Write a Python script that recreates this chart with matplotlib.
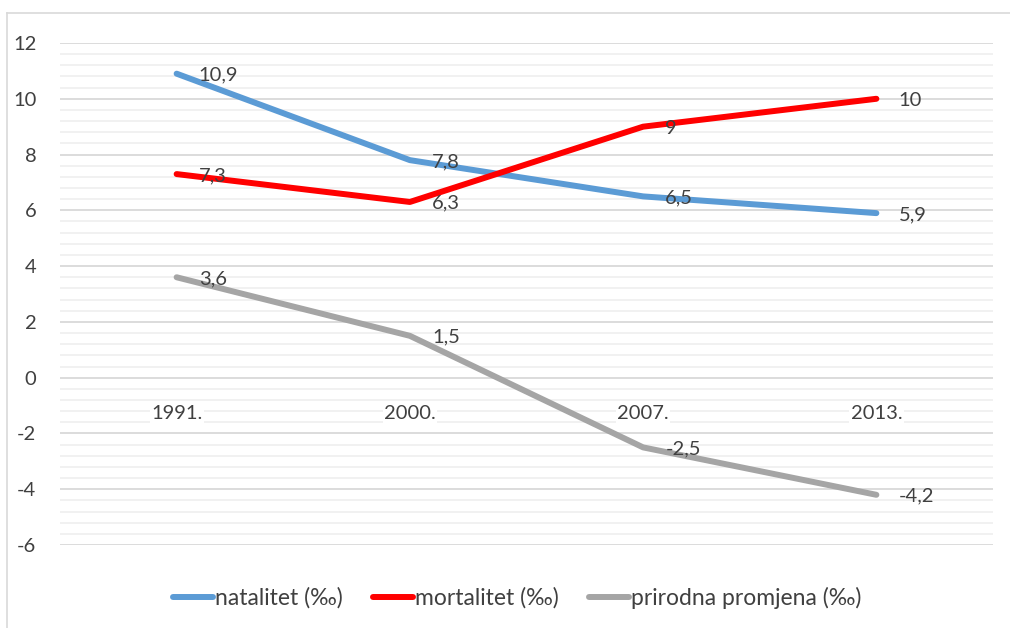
import matplotlib.pyplot as plt
from matplotlib.lines import Line2D
from matplotlib.ticker import MultipleLocator

YEARS = ["1991.", "2000.", "2007.", "2013."]
NATALITET = [10.9, 7.8, 6.5, 5.9]
MORTALITET = [7.3, 6.3, 9.0, 10.0]
PRIRODNA_PROMJENA = [3.6, 1.5, -2.5, -4.2]

SERIES = [
    ("natalitet (‰)", NATALITET, "#5B9BD5"),
    ("mortalitet (‰)", MORTALITET, "#FF0000"),
    ("prirodna promjena (‰)", PRIRODNA_PROMJENA, "#A5A5A5"),
]

TEXT_COLOR = "#404040"
FONT_SIZE = 14.5
LEGEND_FONT_SIZE = 16.5


def fmt_value(value: float) -> str:
    return f"{value:g}".replace(".", ",")


plt.rcParams["font.family"] = ["Lato", "DejaVu Sans"]

fig = plt.figure(figsize=(10.1, 6.28), dpi=100)
ax = fig.add_axes([60 / 1010, 1 - 545 / 628, 933 / 1010, 502 / 628])

x = list(range(len(YEARS)))
handles = []
for label, values, color in SERIES:
    (line,) = ax.plot(
        x, values, color=color, linewidth=4.3,
        solid_capstyle="round", solid_joinstyle="round", label=label, zorder=3,
    )
    handles.append(line)
    for xi, value in zip(x, values):
        ax.annotate(
            fmt_value(value), (xi, value), xytext=(16, -1),
            textcoords="offset points", ha="left", va="center",
            fontsize=FONT_SIZE, color=TEXT_COLOR, zorder=4,
        )

ax.set_xlim(-0.5, len(YEARS) - 0.5)
ax.set_ylim(-6, 12)
ax.yaxis.set_major_locator(MultipleLocator(2))
ax.yaxis.set_minor_locator(MultipleLocator(0.4))
ax.grid(axis="y", which="major", color="#D9D9D9", linewidth=1.3, zorder=0)
ax.grid(axis="y", which="minor", color="#F0F0F0", linewidth=1.3, zorder=0)
ax.set_axisbelow(True)
# x axis above the y grid so the category labels cover it
ax.xaxis.set_zorder(1.0)

# category axis crosses at zero, labels sit just below it on a white box
ax.spines["bottom"].set_position(("data", 0))
for side in ("top", "right", "left", "bottom"):
    ax.spines[side].set_visible(False)
ax.set_xticks(x, YEARS)
ax.tick_params(axis="x", length=0, pad=20, labelsize=FONT_SIZE,
               labelcolor=TEXT_COLOR)
for tick_label in ax.get_xticklabels():
    tick_label.set_bbox(dict(facecolor="white", edgecolor="none", pad=1.0))
ax.tick_params(axis="y", which="both", length=0, pad=17, labelsize=FONT_SIZE,
               labelcolor=TEXT_COLOR)
ax.set_yticks(range(-6, 13, 2), [str(v) for v in range(-6, 13, 2)])

leg = fig.legend(
    handles=handles, loc="center", bbox_to_anchor=(0.512, 1 - 598 / 628),
    ncol=3, frameon=False, fontsize=LEGEND_FONT_SIZE, handlelength=1.75,
    handletextpad=0.1, columnspacing=1.3,
)
for text in leg.get_texts():
    text.set_color(TEXT_COLOR)
for leg_line in leg.get_lines():
    leg_line.set_solid_capstyle("round")
    leg_line.set_linewidth(4.3)

# chart area border
frame_color = "#D9D9D9"
fig.add_artist(Line2D([7 / 1010, 1.0], [1 - 13 / 628, 1 - 13 / 628],
                      color=frame_color, linewidth=1.2))
fig.add_artist(Line2D([7 / 1010, 7 / 1010], [1 - 13 / 628, 0.0],
                      color=frame_color, linewidth=1.2))

fig.savefig("out.png", dpi=100)
